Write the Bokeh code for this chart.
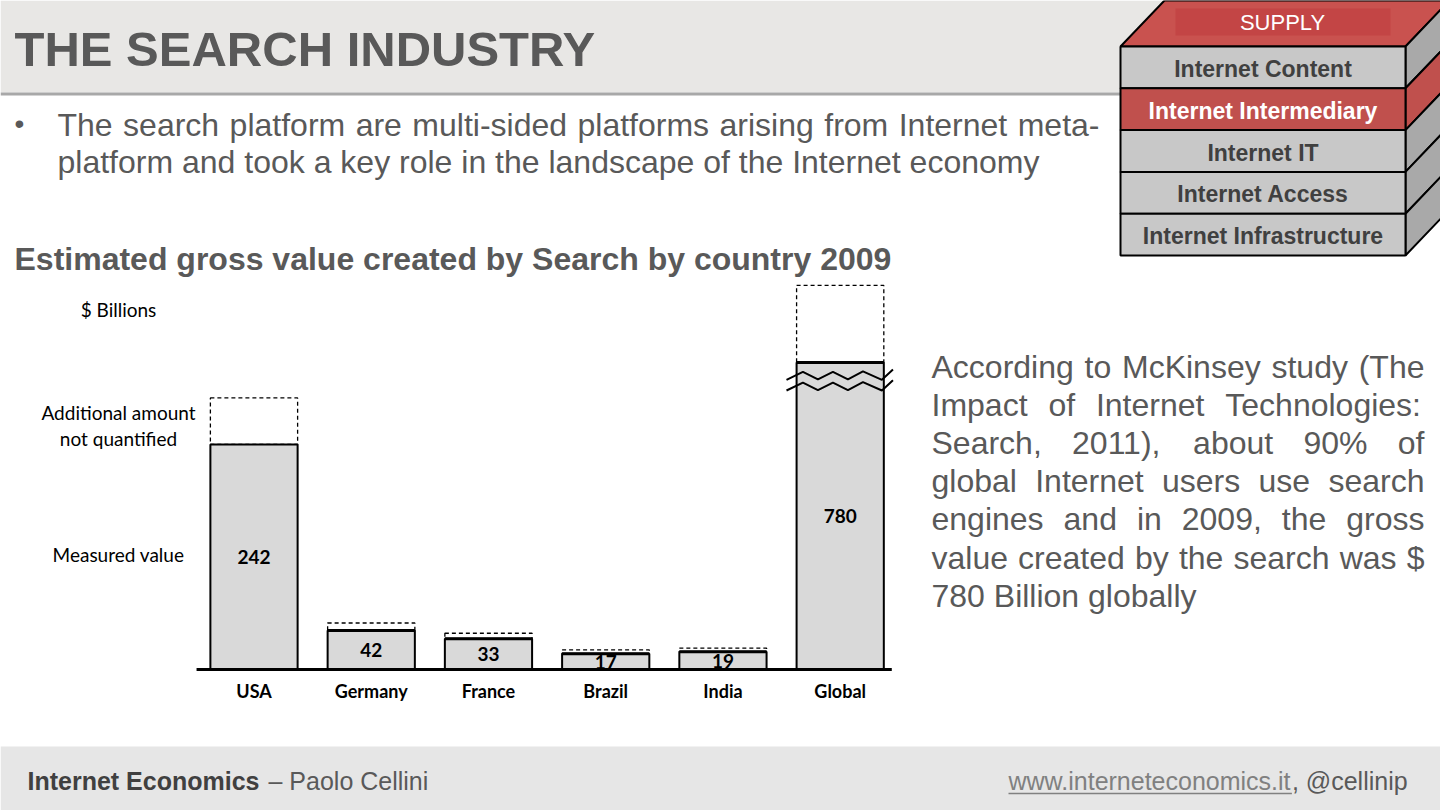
from bokeh.plotting import figure
from bokeh.models import Range1d
from bokeh.core.properties import value
from bokeh.embed import file_html
from bokeh.resources import INLINE

# ---------------- data ----------------
categories = ["USA", "Germany", "France", "Brazil", "India", "Global"]
measured = [242, 42, 33, 17, 19, 780]          # $ billions, measured value
unquantified = [50, 8, 6, 4, 4, 83]            # illustrative "additional amount not quantified"
BREAK_AT = 310                                  # axis break for the Global bar
BREAK_RATIO = 20 / 470

stack_layers = ["Internet Content", "Internet Intermediary", "Internet IT",
                "Internet Access", "Internet Infrastructure"]
highlight_layer = "Internet Intermediary"

title = "THE SEARCH INDUSTRY"
bullet_lines = ["The search platform are multi-sided platforms arising from Internet meta-",
                "platform and took a key role in the landscape of the Internet economy"]
subtitle = "Estimated gross value created by Search by country 2009"
para_lines = ["According to McKinsey study (The",
              "Impact of Internet Technologies:",
              "Search, 2011), about 90% of",
              "global Internet users use search",
              "engines and in 2009, the gross",
              "value created by the search was $",
              "780 Billion globally"]

# ---------------- layout constants ----------------
W, H = 1440, 810
PX_PER_BN = 0.93
BASE_PX = 669
CAT0_PX, CAT_STEP_PX = 253.5, 117.24
BAR_W = 0.744
TEXT_COL = "#595959"
RED = "#c0504d"

AW = {' ': 278, '$': 556, '%': 889, '(': 333, ')': 333, ',': 278, '-': 333, '.': 278, ':': 278,
      'A': 667, 'B': 667, 'C': 722, 'D': 722, 'E': 667, 'F': 611, 'G': 778, 'H': 722, 'I': 278,
      'J': 500, 'K': 667, 'L': 556, 'M': 833, 'N': 722, 'O': 778, 'P': 667, 'Q': 778, 'R': 722,
      'S': 667, 'T': 611, 'U': 722, 'V': 667, 'W': 944, 'X': 667, 'Y': 667, 'Z': 611,
      'a': 556, 'b': 556, 'c': 500, 'd': 556, 'e': 556, 'f': 278, 'g': 556, 'h': 556, 'i': 222,
      'j': 222, 'k': 500, 'l': 222, 'm': 833, 'n': 556, 'o': 556, 'p': 556, 'q': 556, 'r': 333,
      's': 500, 't': 278, 'u': 556, 'v': 500, 'w': 722, 'x': 500, 'y': 500, 'z': 500}
for d in "0123456789":
    AW[d] = 556


def tw(s, size):
    return sum(AW.get(c, 556) for c in s) * size / 1000.0


def place_words(line, x0, x1, size, justify):
    words = line.split(" ")
    if not justify or len(words) < 2:
        return [x0], [line]
    widths = [tw(w, size) for w in words]
    gap = (x1 - x0 - sum(widths)) / (len(words) - 1)
    xs, x = [], x0
    for w in widths:
        xs.append(x)
        x += w + gap
    return xs, words


p = figure(width=W, height=H, x_range=Range1d(0, W), y_range=Range1d(H, 0),
           output_backend="svg", toolbar_location=None, min_border=0,
           x_axis_location=None, y_axis_location=None)
p.outline_line_color = None
p.grid.visible = False
p.background_fill_color = "white"
p.border_fill_color = "white"

# chart ranges
x_start = -CAT0_PX / CAT_STEP_PX
p.extra_x_ranges = {"cx": Range1d(x_start, x_start + W / CAT_STEP_PX)}
p.extra_y_ranges = {"cy": Range1d(-(H - BASE_PX) / PX_PER_BN, BASE_PX / PX_PER_BN)}

# ---------------- slide background ----------------
p.quad(left=[0], right=[W], top=[0], bottom=[92], fill_color="#e8e7e5", line_color=None)
p.quad(left=[0], right=[W], top=[92], bottom=[95], fill_color="#a8a8a8", line_color=None)
p.quad(left=[0], right=[W], top=[746], bottom=[H], fill_color="#e6e6e6", line_color=None)

p.text(x=[14], y=[48], text=[title], text_font=value("Liberation Sans"), text_font_size="49px",
       text_font_style="bold", text_color=TEXT_COL, text_baseline="middle", text_align="left")

# bullet
p.text(x=[14], y=[123], text=["•"], text_font=value("Liberation Sans"), text_font_size="28px",
       text_color=TEXT_COL, text_baseline="middle", text_align="left")
bx, bt, by = [], [], []
for i, line in enumerate(bullet_lines):
    xs, ws = place_words(line, 57, 1099, 32, i < len(bullet_lines) - 1)
    bx += xs
    bt += ws
    by += [124 + 37.5 * i] * len(ws)
p.text(x=bx, y=by, text=bt, text_font=value("Liberation Sans"), text_font_size="32px",
       text_color=TEXT_COL, text_baseline="middle", text_align="left")

p.text(x=[14], y=[258], text=[subtitle], text_font=value("Liberation Sans"), text_font_size="32px",
       text_font_style="bold", text_color=TEXT_COL, text_baseline="middle", text_align="left")

# right paragraph
px_, pt_, py_ = [], [], []
for i, line in enumerate(para_lines):
    xs, ws = place_words(line, 931, 1424, 32, i < len(para_lines) - 1)
    px_ += xs
    pt_ += ws
    py_ += [366 + 38.2 * i] * len(ws)
p.text(x=px_, y=py_, text=pt_, text_font=value("Liberation Sans"), text_font_size="32px",
       text_color=TEXT_COL, text_baseline="middle", text_align="left")

# footer
p.text(x=[27], y=[780], text=["Internet Economics"], text_font=value("Liberation Sans"),
       text_font_size="25px", text_font_style="bold", text_color="#404040", text_baseline="middle")
p.text(x=[268], y=[780], text=["– Paolo Cellini"], text_font=value("Liberation Sans"),
       text_font_size="25px", text_color=TEXT_COL, text_baseline="middle")
url = "www.interneteconomics.it"
url_w = tw(url, 25)
p.text(x=[1008], y=[780], text=[url], text_font=value("Liberation Sans"),
       text_font_size="25px", text_color="#808080", text_baseline="middle")
p.segment(x0=[1008], y0=[793], x1=[1008 + url_w], y1=[793], line_color="#808080", line_width=1.5)
p.text(x=[1008 + url_w], y=[780], text=[", @cellinip"], text_font=value("Liberation Sans"),
       text_font_size="25px", text_color=TEXT_COL, text_baseline="middle")

# ---------------- stack graphic ----------------
FX0, FX1, FTOP, ROW_H, DEPTH = 1120, 1405, 46, 41.8, 44
SLOPE = 45 / 43.0
p.patches(xs=[[FX0, FX1, FX1 + DEPTH, FX0 + DEPTH]], ys=[[FTOP, FTOP, FTOP - DEPTH * SLOPE, FTOP - DEPTH * SLOPE]],
          fill_color="#c9524f", line_color="black", line_width=2)
p.quad(left=[1175], right=[1390], top=[8], bottom=[35], fill_color="#c34545", line_color=None)
p.text(x=[1282], y=[22], text=["SUPPLY"], text_font=value("Liberation Sans"), text_font_size="22px",
       text_color="white", text_align="center", text_baseline="middle")
sx, sy, scol, fl, fr, ft, fb, fcol, tcol = [], [], [], [], [], [], [], [], []
for i, name in enumerate(stack_layers):
    top = FTOP + i * ROW_H
    bot = top + ROW_H
    hl = name == highlight_layer
    sx.append([FX1, FX1, FX1 + DEPTH, FX1 + DEPTH])
    sy.append([top, bot, bot - DEPTH * SLOPE, top - DEPTH * SLOPE])
    scol.append(RED if hl else "#a9a9a9")
    fl.append(FX0); fr.append(FX1); ft.append(top); fb.append(bot)
    fcol.append(RED if hl else "#c8c8c8")
    tcol.append("white" if hl else "#404040")
p.patches(xs=sx, ys=sy, fill_color=scol, line_color="black", line_width=2)
p.quad(left=fl, right=fr, top=ft, bottom=fb, fill_color=fcol, line_color="black", line_width=2)
p.text(x=[(FX0 + FX1) / 2] * len(stack_layers), y=[t + ROW_H / 2 + 1.5 for t in ft], text=stack_layers,
       text_font=value("Liberation Sans"), text_font_size="23px", text_font_style="bold",
       text_color=tcol, text_align="center", text_baseline="middle")

# ---------------- bar chart ----------------
def broken(v):
    return v if v <= BREAK_AT else BREAK_AT + (v - BREAK_AT) * BREAK_RATIO


idx = list(range(len(categories)))
disp = [broken(v) for v in measured]
tops_extra = [d + u for d, u in zip(disp, unquantified)]

p.vbar(x=idx, width=BAR_W, bottom=disp, top=tops_extra, fill_color="white", line_color="black",
       line_width=1.3, line_dash="4 3", x_range_name="cx", y_range_name="cy")
p.vbar(x=idx, width=BAR_W, bottom=0, top=disp, fill_color="#d9d9d9", line_color="black",
       line_width=2, x_range_name="cx", y_range_name="cy")
p.segment(x0=[i - BAR_W / 2 for i in idx[1:]], x1=[i + BAR_W / 2 for i in idx[1:]], y0=disp[1:], y1=disp[1:],
          line_color="black", line_width=3, x_range_name="cx", y_range_name="cy")

# axis break marks
zig_dx = [-0.458, -0.318, -0.19, -0.062, 0.066, 0.194, 0.356, 0.45]
zig_dy = [-4.5, 4, -4, 4, -4, 4.5, -4.5, 6.5]
zx, zy = [], []
for i, v in enumerate(measured):
    if v > BREAK_AT:
        for c in (BREAK_AT + 6, BREAK_AT - 5.5):
            zx.append([i + d for d in zig_dx])
            zy.append([c + d for d in zig_dy])
p.multi_line(xs=zx, ys=zy, line_color="black", line_width=2, x_range_name="cx", y_range_name="cy")

# baseline
p.segment(x0=[-0.49], x1=[len(categories) - 0.56], y0=[0], y1=[0], line_color="black",
          line_width=3, x_range_name="cx", y_range_name="cy")

# value labels
p.text(x=idx, y=[d / 2 for d in disp], text=[str(v) for v in measured], text_font=value("Lato"),
       text_font_size="19px", text_font_style="bold", text_color="black", text_align="center",
       text_baseline="middle", x_range_name="cx", y_range_name="cy")
# category labels
p.text(x=idx, y=[-23] * len(idx), text=categories, text_font=value("Lato"), text_font_size="18px",
       text_font_style="bold", text_color="black", text_align="center", text_baseline="middle",
       x_range_name="cx", y_range_name="cy")

# legend-like annotations
p.text(x=[118, 118, 118, 118], y=[309, 412, 438, 554],
       text=["$ Billions", "Additional amount", "not quantified", "Measured value"],
       text_font=value("Lato"), text_font_size="19px", text_color="black", text_align="center",
       text_baseline="middle")

open("out.html", "w").write(file_html(p, INLINE))
